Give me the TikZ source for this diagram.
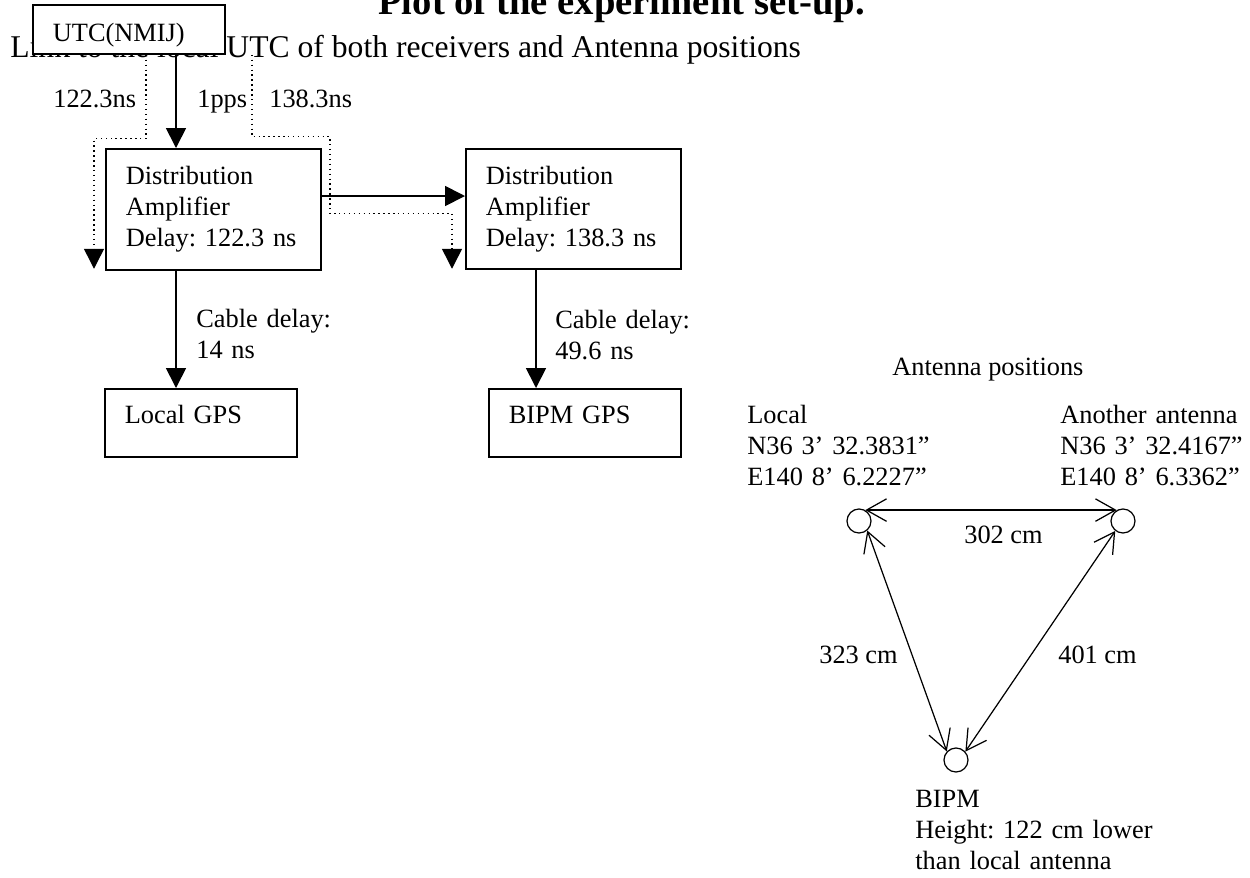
\documentclass[tikz,border=0pt]{standalone}
\usepackage{fontspec}
\setmainfont{Liberation Serif}
\usetikzlibrary{arrows.meta}
\frenchspacing

\begin{document}
\begin{tikzpicture}[
    font=\fontsize{15}{17.6}\selectfont,
    box/.style={rectangle, draw, line width=1pt, fill=white, anchor=north west, inner xsep=0.4cm, inner ysep=0pt, align=left},
    sig/.style={line width=1pt, -{Triangle[length=0.4cm, width=0.4cm]}},
    dly/.style={line width=0.8pt, dotted, -{Triangle[length=0.4cm, width=0.4cm]}},
    dist/.style={line width=0.7pt, {Straight Barb[length=0.4cm, width=0.45cm]}-{Straight Barb[length=0.4cm, width=0.45cm]}},
    ant/.style={circle, draw, line width=0.7pt, minimum size=0.48cm, inner sep=0pt},
    lbl/.style={anchor=base west, inner sep=0pt},
    txt/.style={anchor=base west, inner sep=0pt, align=left, text width=5cm, font=\fontsize{15}{17.8}\selectfont}
]
    \path[use as bounding box, fill=white] (0,0) rectangle (25,-17.54);

    \node[lbl, font=\fontsize{22}{26}\selectfont\bfseries] (title) at (7.56,-0.28) {Plot of the experiment set-up.};
    \node[lbl, font=\fontsize{18}{21}\selectfont] (sub) at (0.2,-1.15) {Link to the local UTC of both receivers and Antenna positions};

    \node[box, text width=3.04cm, text height=0.74cm, text depth=0.24cm] (utc) at (0.64,-0.08) {UTC(NMIJ)};
    \node[box, text width=3.5cm, text height=0.72cm, text depth=1.7cm] (amp1) at (2.1,-2.96) {Distribution\\Amplifier\\Delay: 122.3 ns};
    \node[box, text width=3.5cm, text height=0.72cm, text depth=1.68cm] (amp2) at (9.3,-2.96) {Distribution\\Amplifier\\Delay: 138.3 ns};
    \node[box, text width=3.04cm, text height=0.7cm, text depth=0.66cm] (gpsL) at (2.08,-7.76) {Local GPS};
    \node[box, text width=3.04cm, text height=0.7cm, text depth=0.66cm] (gpsB) at (9.76,-7.76) {BIPM GPS};

    \coordinate (in1) at ([xshift=1.42cm]amp1.north west);
    \coordinate (in2) at ([xshift=1.42cm]amp2.north west);
    \draw[sig] (in1 |- utc.south) -- (in1);
    \draw[sig] (in1 |- amp1.south) -- (in1 |- gpsL.north);
    \draw[sig] (in2 |- amp2.south) -- (in2 |- gpsB.north);
    \draw[sig] ([yshift=-0.96cm]amp1.north east) -- ([yshift=-0.96cm]amp2.north west);

    \draw[dly] ([xshift=2.28cm]utc.south west) -- ++(0,-1.68) -- ++(-1.04,0) -- ++(0,-2.6);
    \draw[dly] ([xshift=4.4cm]utc.south west) -- ++(0,-1.64) -- ++(1.56,0) -- ++(0,-1.54) -- ++(2.44,0) -- ++(0,-1.1);

    \node[lbl] (d1) at (1.06,-2.14) {122.3ns};
    \node[lbl] (pps) at (3.94,-2.14) {1pps};
    \node[lbl] (d2) at (5.38,-2.14) {138.3ns};
    \node[txt] (c1) at (3.92,-6.54) {Cable delay:\\14 ns};
    \node[txt] (c2) at (11.1,-6.56) {Cable delay:\\49.6 ns};

    \node[lbl] (apos) at (17.84,-7.5) {Antenna positions};
    \node[txt] (tloc) at (14.94,-8.46) {Local\\N36 3’ 32.3831”\\E140 8’ 6.2227”};
    \node[txt] (tano) at (21.2,-8.46) {Another antenna\\N36 3’ 32.4167”\\E140 8’ 6.3362”};

    \node[ant] (loc) at (17.18,-10.42) {};
    \node[ant] (ano) at (22.46,-10.42) {};
    \node[ant] (bip) at (19.12,-15.2) {};
    \draw[dist] (loc.60) -- (ano.120);
    \draw[dist] (loc.-49) -- (bip.137);
    \draw[dist] (ano.-128) -- (bip.42);

    \node[lbl] (l302) at (19.28,-10.86) {302 cm};
    \node[lbl] (l323) at (16.38,-13.26) {323 cm};
    \node[lbl] (l401) at (21.16,-13.26) {401 cm};
    \node[txt] (tbip) at (18.3,-16.14) {BIPM\\Height: 122 cm lower\\than local antenna};
\end{tikzpicture}
\end{document}
